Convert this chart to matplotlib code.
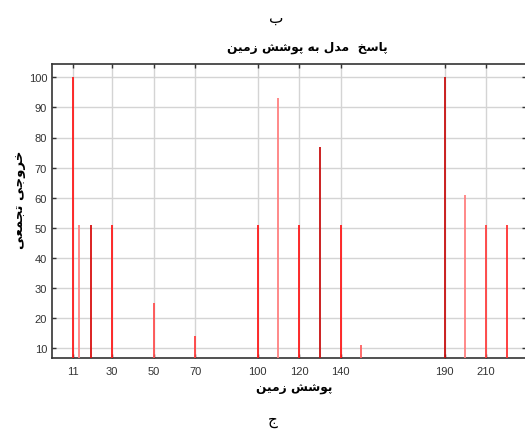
import matplotlib
matplotlib.use("Agg")
import matplotlib.pyplot as plt

# ---- data ----
x_values = [11, 14, 20, 30, 50, 70, 100, 110, 120, 130, 140, 150, 190, 200, 210, 220]
y_values = [100, 51, 51, 51, 25, 14, 51, 93, 51, 77, 51, 11, 100, 61, 51, 51]
x_ticks = [11, 30, 50, 70, 100, 120, 140, 190, 210]
y_ticks = [10, 20, 30, 40, 50, 60, 70, 80, 90, 100]
title_text = "پاسخ  مدل به پوشش زمین"
xlabel_text = "پوشش زمین"
ylabel_text = "خروجی تجمعی"
top_label = "ب"
bottom_label = "ج"

# style per line
line_colors = ['#ff1a1a', '#ff8080', '#d81010', '#ff1a1a', '#ff5050', '#ff4040', '#ff1a1a', '#ff8080',
               '#ff1a1a', '#c81010', '#ff1a1a', '#ff6060', '#c81010', '#ff8080', '#ff4040', '#ff3030']

# ---- simple Arabic/Persian shaping (presentation forms) ----
FORMS = {
    'ا': ('\uFE8D', '\uFE8E', None, None),
    'ب': ('\uFE8F', '\uFE90', '\uFE91', '\uFE92'),
    'ت': ('\uFE95', '\uFE96', '\uFE97', '\uFE98'),
    'ج': ('\uFE9D', '\uFE9E', '\uFE9F', '\uFEA0'),
    'خ': ('\uFEA5', '\uFEA6', '\uFEA7', '\uFEA8'),
    'د': ('\uFEA9', '\uFEAA', None, None),
    'ر': ('\uFEAD', '\uFEAE', None, None),
    'ز': ('\uFEAF', '\uFEB0', None, None),
    'س': ('\uFEB1', '\uFEB2', '\uFEB3', '\uFEB4'),
    'ش': ('\uFEB5', '\uFEB6', '\uFEB7', '\uFEB8'),
    'ع': ('\uFEC9', '\uFECA', '\uFECB', '\uFECC'),
    'ل': ('\uFEDD', '\uFEDE', '\uFEDF', '\uFEE0'),
    'م': ('\uFEE1', '\uFEE2', '\uFEE3', '\uFEE4'),
    'ن': ('\uFEE5', '\uFEE6', '\uFEE7', '\uFEE8'),
    'ه': ('\uFEE9', '\uFEEA', '\uFEEB', '\uFEEC'),
    'و': ('\uFEED', '\uFEEE', None, None),
    'ی': ('\uFBFC', '\uFBFD', '\uFBFE', '\uFBFF'),
    'پ': ('\uFB56', '\uFB57', '\uFB58', '\uFB59'),
}


def dual(c):
    return c in FORMS and FORMS[c][2] is not None


def shape(text):
    out = []
    n = len(text)
    for i, c in enumerate(text):
        if c not in FORMS:
            out.append(c)
            continue
        prev = text[i - 1] if i > 0 else ''
        nxt = text[i + 1] if i < n - 1 else ''
        join_prev = dual(prev)
        join_next = dual(c) and (nxt in FORMS)
        iso, fin, ini, med = FORMS[c]
        if join_prev and join_next:
            out.append(med)
        elif join_prev:
            out.append(fin)
        elif join_next:
            out.append(ini)
        else:
            out.append(iso)
    return ''.join(out)[::-1]


plt.rcParams['font.family'] = ['DejaVu Sans']

fig = plt.figure(figsize=(5.25, 4.31), dpi=100)
ax = fig.add_axes([52 / 525, 1 - 359 / 431, (525.5 - 52) / 525, (359 - 65) / 431])

ymin, ymax = 6.8, 104.4
ax.set_xlim(1, 229)
ax.set_ylim(ymin, ymax)

ax.vlines(x_values, ymin, y_values, colors=line_colors, linewidth=1.3, zorder=3)

ax.set_xticks(x_ticks)
ax.set_yticks(y_ticks)
ax.grid(True, color='#d4d4d4', linewidth=1.0, zorder=0)
ax.set_axisbelow(True)
ax.tick_params(direction='in', length=3, width=1, color='#333333', top=True, right=True,
               labelsize=8, labelcolor='#333333')
ax.tick_params(axis='x', pad=6)
for lbl in ax.get_xticklabels() + ax.get_yticklabels():
    lbl.set_fontfamily('Liberation Sans')
for sp in ax.spines.values():
    sp.set_color('#333333')
    sp.set_linewidth(1.2)

fig.text(307 / 525, 1 - 47 / 431, shape(title_text), ha='center', va='center',
         fontsize=8.8, fontweight='bold')
fig.text(276 / 525, 1 - 18 / 431, shape(top_label), ha='center', va='center', fontsize=11)
fig.text(273 / 525, 1 - 421 / 431, shape(bottom_label), ha='center', va='center', fontsize=11)
fig.text(294 / 525, 1 - 389 / 431, shape(xlabel_text), ha='center', va='center',
         fontsize=8.8, fontweight='bold')
fig.text(20 / 525, 1 - 200 / 431, shape(ylabel_text), ha='center', va='center',
         fontsize=9.5, fontweight='bold', rotation=90)

fig.savefig('out.png', dpi=100)
